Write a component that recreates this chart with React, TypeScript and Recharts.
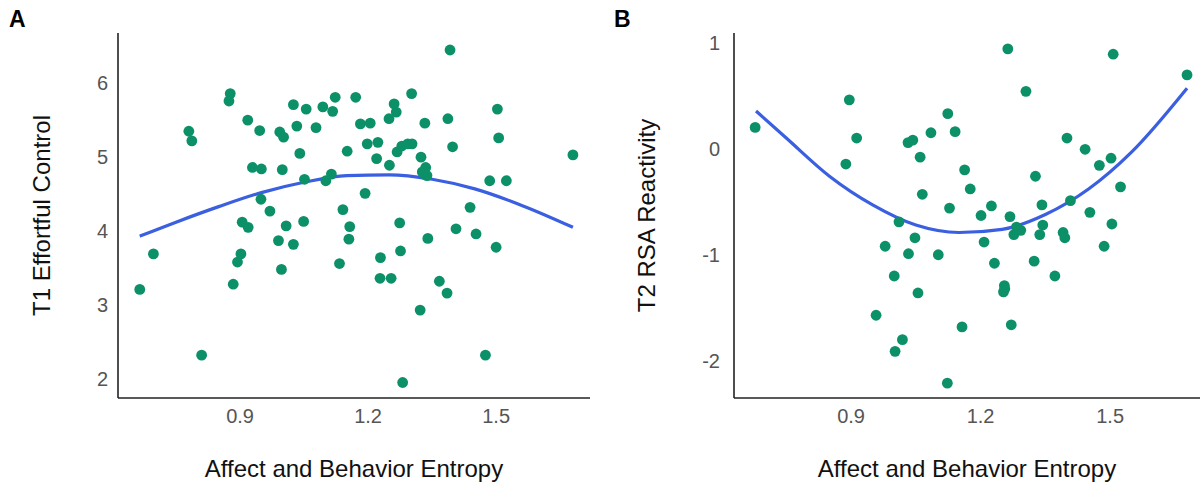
import React from 'react'
import { ComposedChart, Scatter, Line, XAxis, YAxis } from 'recharts'

// panel A: entropy vs T1 effortful control
const entropyA = [
  0.665, 0.697, 0.78, 0.787, 0.81, 0.877, 0.874, 0.884, 0.894, 0.902, 0.905, 0.919, 0.918, 0.929, 0.95,
  0.946, 0.949, 0.97, 0.99, 0.993, 1.002, 0.997, 0.999, 1.008, 1.025, 1.025, 1.033, 1.04, 1.049, 1.051,
  1.055, 1.078, 1.094, 1.101, 1.114, 1.117, 1.123, 1.133, 1.141, 1.151, 1.157, 1.155, 1.171, 1.182, 1.193,
  1.198, 1.205, 1.22, 1.223, 1.228, 1.229, 1.25, 1.249, 1.254, 1.261, 1.266, 1.268, 1.274, 1.276, 1.279,
  1.281, 1.293, 1.303, 1.302, 1.322, 1.324, 1.327, 1.333, 1.335, 1.331, 1.338, 1.34, 1.367, 1.385, 1.387,
  1.392, 1.398, 1.406, 1.439, 1.453, 1.475, 1.485, 1.5, 1.503, 1.506, 1.524, 1.68,
]
const effortfulControl = [
  3.21, 3.69, 5.35, 5.22, 2.32, 5.86, 5.76, 3.28, 3.58, 3.69, 4.12, 4.05, 5.5, 4.86, 4.84,
  5.36, 4.43, 4.27, 3.87, 5.34, 5.27, 3.48, 4.83, 4.07, 3.82, 5.71, 5.42, 5.05, 4.13, 4.7,
  5.65, 5.4, 5.68, 4.68, 4.77, 5.62, 5.81, 3.56, 4.29, 5.08, 4.06, 3.89, 5.81, 5.45, 4.51,
  5.18, 5.46, 4.98, 5.2, 3.36, 3.64, 4.89, 5.52, 3.36, 5.72, 5.61, 5.07, 4.11, 3.73, 5.15,
  1.95, 5.18, 5.18, 5.86, 2.93, 5.0, 4.8, 5.46, 4.86, 4.77, 4.75, 3.9, 3.32, 3.16, 5.52,
  6.45, 5.14, 4.03, 4.32, 3.96, 2.32, 4.68, 3.78, 5.65, 5.26, 4.68, 5.03,
]
const fitXA = [0.665, 0.75, 0.85, 0.95, 1.05, 1.15, 1.25, 1.35, 1.45, 1.55, 1.68]
const fitYA = [3.93, 4.12, 4.33, 4.52, 4.66, 4.75, 4.76, 4.7, 4.57, 4.37, 4.05]

// panel B: entropy vs T2 RSA reactivity
const entropyB = [
  0.678, 0.896, 0.913, 0.888, 0.958, 0.979, 1.0, 1.002, 1.019, 1.011, 1.032, 1.043, 1.033, 1.048, 1.06,
  1.065, 1.055, 1.085, 1.102, 1.123, 1.124, 1.128, 1.141, 1.157, 1.163, 1.176, 1.201, 1.208, 1.225, 1.232,
  1.255, 1.253, 1.256, 1.263, 1.268, 1.271, 1.277, 1.283, 1.293, 1.305, 1.324, 1.327, 1.337, 1.342, 1.344,
  1.372, 1.391, 1.395, 1.4, 1.408, 1.442, 1.453, 1.475, 1.486, 1.502, 1.504, 1.507, 1.524, 1.678,
]
const rsaReactivity = [
  0.2, 0.46, 0.1, -0.145, -1.57, -0.92, -1.2, -1.91, -1.8, -0.69, 0.057, 0.08, -0.99, -0.84, -0.08,
  -0.43, -1.36, 0.15, -1.0, -2.21, 0.33, -0.56, 0.16, -1.68, -0.2, -0.38, -0.63, -0.88, -0.54, -1.08,
  -1.29, -1.35, -1.32, 0.94, -0.64, -1.66, -0.81, -0.74, -0.77, 0.54, -1.06, -0.26, -0.81, -0.53, -0.72,
  -1.2, -0.79, -0.84, 0.1, -0.49, -0.006, -0.6, -0.157, -0.92, -0.09, -0.71, 0.89, -0.36, 0.695,
]
const fitXB = [0.68, 0.75, 0.85, 0.95, 1.05, 1.15, 1.25, 1.35, 1.45, 1.55, 1.678]
const fitYB = [0.355, 0.1, -0.26, -0.53, -0.72, -0.79, -0.76, -0.62, -0.38, -0.03, 0.57]

const xTicks = [0.9, 1.2, 1.5]
const yTicksA = [2, 3, 4, 5, 6]
const yTicksB = [-2, -1, 0, 1]

const DOT = '#0c9068'
const FIT = '#3a5fe0'
const FONT = '"Liberation Sans", Arial, Helvetica, sans-serif'

const zip = (xs: number[], ys: number[]) => xs.map((x, i) => ({ x, y: ys[i] }))

const dot = (p: any) => <circle cx={p.cx} cy={p.cy} r={5.4} fill={DOT} />

function Panel({ points, fit, xDomain, yDomain, yTicks, yLabel, axisW, plotW, yLabelX, width, tickGap }: any) {
  return (
    <ComposedChart width={width} height={492} margin={{ top: 33, right: width - axisW - plotW, left: 0, bottom: 0 }}>
      <XAxis
        type="number"
        dataKey="x"
        domain={xDomain}
        ticks={xTicks}
        tickFormatter={v => v.toFixed(1)}
        allowDataOverflow
        height={94}
        tickLine={false}
        tickSize={0}
        tickMargin={11}
        axisLine={{ stroke: '#222', strokeWidth: 1.6 }}
        tick={{ fill: '#555', fontSize: 20, fontFamily: FONT }}
        label={{ value: 'Affect and Behavior Entropy', position: 'insideBottom', offset: 15, fill: '#111', fontSize: 24, fontFamily: FONT }}
      />
      <YAxis
        type="number"
        dataKey="y"
        domain={yDomain}
        ticks={yTicks}
        allowDataOverflow
        width={axisW}
        tickLine={false}
        tickSize={0}
        tickMargin={tickGap}
        axisLine={{ stroke: '#222', strokeWidth: 1.6 }}
        tick={{ fill: '#555', fontSize: 20, fontFamily: FONT }}
        label={{ value: yLabel, angle: -90, position: 'insideLeft', offset: yLabelX, fill: '#111', fontSize: 24, fontFamily: FONT, style: { textAnchor: 'middle' } }}
      />
      <Scatter data={points} shape={dot} isAnimationActive={false} />
      <Line data={fit} dataKey="y" type="monotone" stroke={FIT} strokeWidth={3.2} dot={false} activeDot={false} isAnimationActive={false} />
    </ComposedChart>
  )
}

export default function App() {
  return (
    <div style={{ position: 'absolute', left: 0, top: 0, width: 1202, height: 492, background: '#fff', fontFamily: FONT }}>
      <div style={{ position: 'absolute', left: 9, top: 6, fontSize: 23, fontWeight: 700 }}>A</div>
      <div style={{ position: 'absolute', left: 614, top: 6, fontSize: 23, fontWeight: 700 }}>B</div>
      <div style={{ position: 'absolute', left: 0, top: 0 }}>
        <Panel
          points={zip(entropyA, effortfulControl)}
          fit={zip(fitXA, fitYA)}
          xDomain={[0.614, 1.72]}
          yDomain={[1.74, 6.68]}
          yTicks={yTicksA}
          yLabel="T1 Effortful Control"
          axisW={118}
          plotW={472}
          yLabelX={41}
          width={600}
          tickGap={10}
        />
      </div>
      <div style={{ position: 'absolute', left: 600, top: 0 }}>
        <Panel
          points={zip(entropyB, rsaReactivity)}
          fit={zip(fitXB, fitYB)}
          xDomain={[0.629, 1.708]}
          yDomain={[-2.35, 1.09]}
          yTicks={yTicksB}
          yLabel="T2 RSA Reactivity"
          axisW={134}
          plotW={466}
          yLabelX={46}
          width={602}
          tickGap={14}
        />
      </div>
    </div>
  )
}
